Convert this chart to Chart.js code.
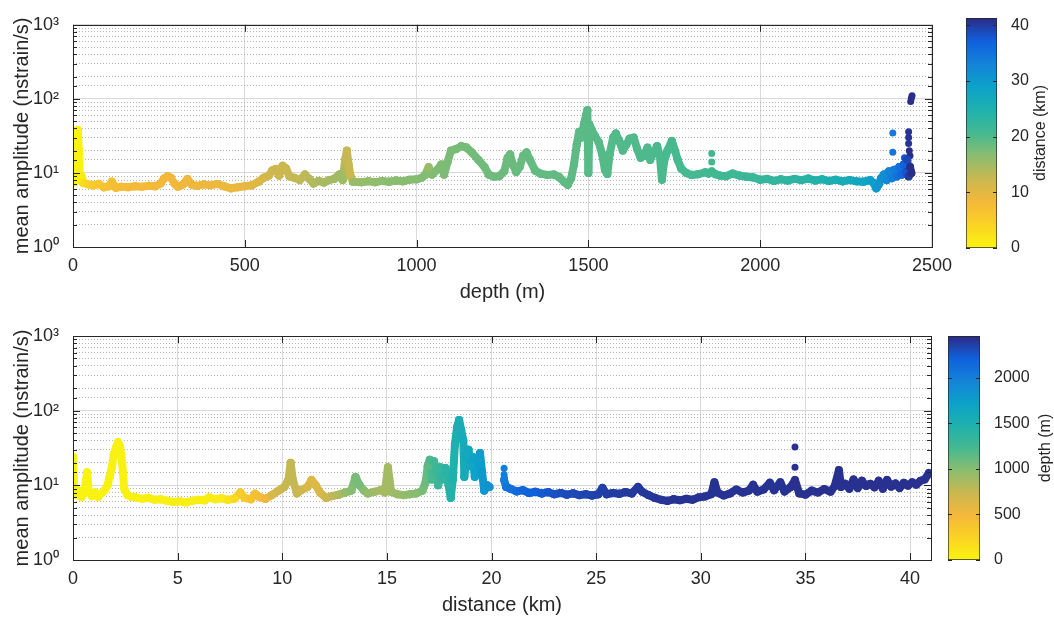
<!DOCTYPE html>
<html>
<head>
<meta charset="utf-8">
<script src="https://cdn.jsdelivr.net/npm/chart.js@4.4.1/dist/chart.umd.min.js"></script>
<style>
  body { margin: 0; background: #fff; }
  #wrap { position: relative; width: 1054px; height: 620px; }
  canvas { position: absolute; }
</style>
</head>
<body>
<div id="wrap">
  <canvas id="top" width="960" height="305" style="left:0;top:0"></canvas>
  <canvas id="cbTop" width="114" height="305" style="left:940px;top:0"></canvas>
  <canvas id="bot" width="960" height="308" style="left:0;top:310px"></canvas>
  <canvas id="cbBot" width="134" height="308" style="left:920px;top:310px"></canvas>
</div>
<script>
// top panel: amplitude vs depth, coloured by distance
const depthTop = [
  0,5,10,14,17,20,25,30,45,60,
  75,90,105,113,125,140,160,180,200,220,
  240,255,265,275,285,295,305,320,333,345,
  360,380,400,420,440,460,480,500,520,540,
  555,570,580,590,600,610,620,630,645,660,
  675,688,700,715,730,745,760,775,785,792,
  797,802,808,815,840,860,880,900,920,940,
  960,980,1000,1015,1025,1035,1045,1060,1072,1080,
  1090,1100,1115,1130,1145,1160,1180,1198,1210,1225,
  1240,1255,1265,1272,1280,1290,1300,1310,1320,1330,
  1345,1360,1380,1400,1415,1430,1440,1450,1458,1466,
  1473,1480,1487,1493,1497,1500,1503,1510,1520,1530,
  1540,1548,1555,1562,1572,1580,1590,1600,1610,1620,
  1632,1642,1652,1662,1672,1680,1690,1700,1708,1714,
  1720,1730,1743,1752,1760,1770,1785,1800,1820,1840,
  1850,1859,1870,1883,1900,1920,1940,1960,1980,2000,
  2020,2040,2060,2080,2100,2120,2140,2160,2180,2200,
  2220,2240,2260,2280,2300,2320,2330,2338,2345,2352,
  2360,2368,2375,2383,2390,2398,2405,2412,2418,2424,
  2428,2432,2436,2440
];
const ampTop = [
  8.5,7.5,14,38,20,8,9,7.3,7.0,6.8,
  7.1,6.4,6.6,7.6,6.3,6.5,6.4,6.6,6.5,6.7,
  6.6,7.2,8.4,9.0,8.6,7.2,6.5,7.0,8.3,7.0,
  6.7,7.0,6.8,7.1,6.6,6.2,6.4,6.6,6.8,7.6,
  8.6,9.2,10.8,11.3,9.2,12.5,11.5,9.0,8.6,8.0,
  9.5,8.3,7.2,7.8,7.4,8.0,8.3,9.5,8.0,15,
  20,13,9,7.6,7.5,7.7,7.5,7.8,7.6,7.9,
  7.7,8.1,8.2,8.6,9.4,12,9.5,11,13,9.5,
  14,20,21,23,22,19,15,12,9.5,8.9,
  9.0,10.5,16,17.8,13,10.3,12,17,18.9,15,
  10.8,9.8,9.4,9.5,8.8,7.5,6.9,8.5,13,24,
  36,30,45,60,70,10,45,38,31,26,
  18,11,9.7,18,30,34,27,20,24,29,
  30,21,16,17,22,15,19,23,17,8.1,
  14,20,27,20,15,11.5,10,9.4,9.6,10.2,
  9.8,10.5,9.6,9.2,9.0,9.8,9.2,8.9,8.7,8.1,
  8.3,7.8,8.2,7.9,8.3,8.0,8.4,7.9,8.2,7.8,
  8.1,7.7,8.0,7.7,7.6,8.0,7.3,6.2,7.0,8.5,
  9.5,8,10.5,8.5,11,9,12,9.5,13,10,
  15,9,12,10
];
const distTop = [
  0,0,0,0,0.3,0.5,1,3,4.5,5.5,
  6,6.5,7,7,7.5,7.5,7.8,8,8,8,
  8.2,8.3,8.3,8.4,8.4,8.5,8.5,8.6,8.6,8.7,
  8.7,8.8,8.8,8.9,9,9,9.2,9.5,10,10.5,
  11,11.5,11.8,12,12,12.2,12.3,12.5,12.8,13,
  13.2,13.5,14,14.3,14.5,14.8,15,15.2,15.3,13,
  12.5,12.5,12,15.5,15.8,16,16.2,16.4,16.5,16.6,
  16.7,16.8,16.9,17,17,15.5,17,17.2,17.3,17.3,
  17.4,17.5,17.6,17.7,17.8,17.9,18,18,18.1,18.2,
  18.2,18.3,18.3,18.4,18.4,18.5,18.5,18.6,18.6,18.7,
  18.8,18.8,18.9,19,19,19.1,19.1,19.2,19.2,19.3,
  19.3,19.3,19.4,19.4,19.4,19.5,19.5,19.5,19.6,19.6,
  19.7,19.7,19.7,19.8,19.8,19.8,19.9,19.9,19.9,20,
  20,20,20.1,20.1,20.2,20.2,20.2,20.3,20.3,20.3,
  20.4,20.4,20.5,20.5,20.5,20.6,20.6,20.7,20.8,20.9,
  20.9,21,21,21.1,21.2,21.3,21.5,21.7,21.9,22.1,
  22.3,22.5,22.8,23,23.3,23.6,24,24.4,24.8,25.2,
  25.7,26.2,26.8,27.4,28,28.8,29.5,30,30.5,31,
  31.5,32,33,33.5,34,35,35.5,36.5,37,38,
  39,40,41,41
];
// isolated dots of the top panel
const oDepthTop = [1859, 1859, 2386, 2386, 2420, 2432, 2432, 2432, 2434, 2436, 2438, 2440, 2442];
const oAmpTop = [18.3, 14, 34.5, 19, 16, 25, 30, 36, 20, 17, 92, 102, 110];
const oDistTop = [21, 21, 34, 34.5, 38, 40.5, 40.5, 40.5, 41, 41, 41, 41, 41];

// bottom panel: amplitude vs distance, coloured by depth (null = gap)
const distBot = [
  0,0.05,0.1,0.25,0.4,0.55,0.67,0.75,0.9,1.05,
  1.2,1.35,1.5,1.65,1.75,1.85,1.95,2.05,2.15,2.25,
  2.35,2.45,2.6,2.8,3.0,3.3,3.6,3.9,4.2,4.5,
  4.8,5.1,5.4,5.7,6.0,6.3,6.5,6.8,7.1,7.4,
  7.7,8.0,8.2,8.5,8.7,8.9,9.2,9.5,9.8,10.1,
  10.3,10.4,10.5,10.7,10.9,11.2,11.4,11.6,11.8,12.1,
  12.4,12.7,13.0,13.3,13.5,13.7,13.9,14.1,14.4,14.7,
  14.9,15.05,15.2,15.5,15.8,16.1,16.4,16.7,16.85,16.95,
  17.05,17.15,17.25,17.35,17.45,17.55,17.65,17.8,17.95,18.05,
  18.15,18.25,18.35,18.45,18.55,18.65,18.7,18.8,18.9,19.0,
  19.1,19.2,19.35,19.45,19.55,19.65,19.8,19.9,20.25,20.6,
  20.7,20.9,21.2,21.5,21.8,22.1,22.4,22.7,23.0,23.3,
  23.6,23.9,24.2,24.5,24.8,25.1,25.3,25.5,25.8,26.1,
  26.4,26.7,27.0,27.2,27.5,27.8,28.1,28.4,28.7,29.0,
  29.3,29.6,29.9,30.2,30.5,30.65,30.8,31.1,31.4,31.7,
  32.0,32.3,32.5,32.7,33.0,33.3,33.5,33.8,34.0,34.3,
  34.5,34.7,35.0,35.3,35.6,35.9,36.2,36.4,36.6,36.7,
  36.9,37.1,37.3,37.5,37.7,37.9,38.1,38.3,38.5,38.7,
  38.9,39.1,39.3,39.5,39.7,39.9,40.1,40.3,40.5,40.7,
  40.9
];
const ampBot = [
  24,9,7.5,8.5,7.0,8.0,15,8.5,7.2,8.0,
  7.0,7.8,8.5,10,13,17,26,32,38,33,
  20,9,7.4,7.0,6.9,6.6,6.8,6.4,6.5,6.2,
  6.0,6.1,5.9,6.2,6.4,6.3,6.9,6.5,6.7,6.4,
  6.6,8.0,6.8,6.5,7.7,7.0,6.6,7.4,8.4,9.5,
  12,20,12,7.8,8.6,9.5,11.8,10,8,6.8,
  7.2,7.5,8.0,8.5,12.9,10,8.5,7.8,8.2,8.6,
  8.0,17.5,8.2,7.6,7.4,7.6,7.8,8.5,11,18,
  22,12,21,16,10,17.5,12,17,10,6.8,
  12,35,60,75,55,40,13,25,30,18,
  24,13,22,27,15,8.5,10,9.5,null,11.8,
  9.5,9.0,8.3,8.6,7.9,8.2,7.8,8.1,7.6,7.9,
  7.5,7.8,7.4,7.6,7.3,7.6,9.2,7.6,7.9,7.7,
  8.1,7.8,9.5,8.2,7.4,6.8,6.4,6.2,6.5,6.3,
  6.6,6.4,6.9,7.1,7.6,11,8,7.3,7.8,8.8,
  8.0,8.5,10.2,8.2,8.8,10.8,8.6,11,8.3,9.5,
  11.8,7.8,7.5,8.5,8.0,8.9,8.2,9.8,16,9.5,
  10.5,9,12,9.2,11.5,9.8,10.5,9.4,11.5,9.0,
  11.8,9.6,10.6,9.2,10.8,9.9,11,10.2,11.5,12,
  14.6
];
const depthBot = [
  0,0,2,4,6,8,8,10,12,12,
  14,16,16,18,18,20,20,20,22,22,
  24,24,26,28,30,32,34,36,38,40,
  42,44,46,48,50,52,55,60,70,120,
  200,300,340,380,420,460,500,650,700,740,
  750,760,760,740,700,650,600,620,650,720,
  780,850,950,1000,1050,1050,1000,950,900,880,
  880,880,900,920,950,980,1000,1050,1100,1150,
  1200,1220,1250,1280,1300,1330,1360,1400,1420,1450,
  1470,1490,1520,1540,1560,1580,1590,1610,1630,1660,
  1690,1720,1740,1770,1790,1810,1830,1850,1900,2000,
  2050,2100,2150,2180,2200,2220,2240,2260,2280,2300,
  2310,2320,2330,2340,2350,2360,2360,2370,2380,2380,
  2390,2390,2400,2400,2400,2410,2410,2410,2420,2420,
  2420,2420,2420,2420,2420,2420,2420,2420,2420,2420,
  2420,2420,2420,2420,2420,2420,2420,2420,2420,2430,
  2430,2430,2430,2430,2430,2430,2430,2430,2430,2430,
  2430,2430,2430,2430,2430,2430,2430,2430,2430,2430,
  2430,2430,2430,2430,2430,2430,2430,2430,2430,2430,
  2430
];
const oDistBot = [20.6, 20.6, 20.62, 34.5, 34.5];
const oAmpBot = [17, 14, 12.5, 32.6, 17.5];
const oDepthBot = [2000, 2000, 2000, 2430, 2430];

// tick values
const depthTicks = [0, 500, 1000, 1500, 2000, 2500];
const distTicks = [0, 5, 10, 15, 20, 25, 30, 35, 40];
const cbDistTicks = [0, 10, 20, 30, 40];
const cbDepthTicks = [0, 500, 1000, 1500, 2000];
const distMax = 41.3;
const depthMax = 2460;
const supDigits = ['⁰', '¹', '²', '³'];

const FONT = '"Liberation Sans", Arial, Helvetica, sans-serif';
const TXT = '#262626';
Chart.defaults.font.family = FONT;
Chart.defaults.color = TXT;

// colour stops, from value 0 (bottom) to max (top)
const stops = ['#f9f40f', '#fbd324', '#f4b83a', '#c9b851', '#8bbd6f', '#45b990',
               '#1fb1ad', '#0ca2c9', '#1483d8', '#1060dc', '#2c2a85'];
const stopsRgb = stops.map(h => [1, 3, 5].map(i => parseInt(h.substr(i, 2), 16)));

function colorFor(v, max) {
    const u = Math.min(Math.max(v / max, 0), 1);
    const f = u * (stopsRgb.length - 1);
    const i = Math.min(Math.floor(f), stopsRgb.length - 2);
    const k = f - i;
    const a = stopsRgb[i], b = stopsRgb[i + 1];
    return 'rgb(' + a.map((c, j) => Math.round(c + (b[j] - c) * k)).join(',') + ')';
}

function isDecade(v) {
    const e = Math.log10(v);
    return Math.abs(e - Math.round(e)) < 1e-6;
}

// box round the axes with inward ticks, like matlab's "box on"
const framePlugin = {
    id: 'frame',
    afterDraw(chart) {
        const { ctx, chartArea: a, scales } = chart;
        ctx.save();
        ctx.strokeStyle = TXT;
        ctx.lineWidth = 1;
        ctx.beginPath();
        scales.x.ticks.forEach(t => {
            const px = Math.round(scales.x.getPixelForValue(t.value)) + 0.5;
            ctx.moveTo(px, a.bottom); ctx.lineTo(px, a.bottom - 7);
            ctx.moveTo(px, a.top); ctx.lineTo(px, a.top + 7);
        });
        scales.y.ticks.forEach(t => {
            const py = Math.round(scales.y.getPixelForValue(t.value)) + 0.5;
            const len = isDecade(t.value) ? 7 : 4;
            ctx.moveTo(a.left, py); ctx.lineTo(a.left + len, py);
            ctx.moveTo(a.right, py); ctx.lineTo(a.right - len, py);
        });
        ctx.stroke();
        ctx.strokeRect(Math.round(a.left) + 0.5, Math.round(a.top) + 0.5,
            Math.round(a.right - a.left), Math.round(a.bottom - a.top));
        ctx.restore();
    }
};

function makeMain(id, xs, ys, cs, oxs, oys, ocs, cmax, xr, xTicks, pad, xTitle) {
    const pts = xs.map((x, i) => ({ x: x, y: ys[i] }));
    const dots = oxs.map((x, i) => ({ x: x, y: oys[i] }));
    new Chart(document.getElementById(id), {
        type: 'scatter',
        data: {
            datasets: [{
                data: pts,
                showLine: true,
                spanGaps: false,
                borderWidth: 8,
                borderCapStyle: 'round',
                borderJoinStyle: 'round',
                borderColor: colorFor(cs[0], cmax),
                segment: {
                    borderColor: c => colorFor((cs[c.p0DataIndex] + cs[c.p1DataIndex]) / 2, cmax)
                },
                pointRadius: 4,
                pointBorderWidth: 0,
                pointBackgroundColor: cs.map(v => colorFor(v, cmax))
            }, {
                data: dots,
                showLine: false,
                pointRadius: 3.5,
                pointBorderWidth: 0,
                pointBackgroundColor: ocs.map(v => colorFor(v, cmax))
            }]
        },
        options: {
            responsive: false,
            animation: false,
            devicePixelRatio: 1,
            layout: { padding: pad },
            plugins: { legend: { display: false }, tooltip: { enabled: false } },
            scales: {
                x: {
                    type: 'linear',
                    min: xr.min,
                    max: xr.max,
                    afterFit: s => { s.height = 58; },
                    afterBuildTicks: s => { s.ticks = xTicks.map(v => ({ value: v })); },
                    ticks: {
                        autoSkip: false,
                        maxRotation: 0,
                        padding: 8,
                        font: { size: 18 },
                        callback: v => String(v)
                    },
                    grid: { color: '#dadada', drawTicks: false },
                    border: { display: false },
                    title: { display: true, text: xTitle, font: { size: 20 }, padding: { top: 0, bottom: 1 } }
                },
                y: {
                    type: 'logarithmic',
                    min: 1,
                    max: 1000,
                    afterFit: s => { s.width = 73; },
                    ticks: {
                        autoSkip: false,
                        padding: 14,
                        font: { size: 18 },
                        callback: v => isDecade(v) ? '10' + supDigits[Math.round(Math.log10(v))] : ''
                    },
                    grid: {
                        drawTicks: false,
                        color: c => (c.tick && !isDecade(c.tick.value)) ? '#b4b4b4' : '#d8d8d8'
                    },
                    border: {
                        display: false,
                        dash: c => (c.tick && !isDecade(c.tick.value)) ? [1, 2] : []
                    },
                    title: { display: true, text: 'mean amplitude (nstrain/s)', font: { size: 20 }, padding: { top: 10, bottom: 0 } }
                }
            }
        },
        plugins: [framePlugin]
    });
}

// colorbar label reads bottom to top, and ticks point inward on both sides
function cbPlugin(label, labelX) {
    return {
        id: 'cbExtra',
        afterDraw(chart) {
            const { ctx, chartArea: a, scales } = chart;
            ctx.save();
            ctx.strokeStyle = TXT;
            ctx.lineWidth = 1;
            ctx.beginPath();
            scales.y.ticks.forEach(t => {
                const py = Math.round(scales.y.getPixelForValue(t.value)) + 0.5;
                ctx.moveTo(a.left, py); ctx.lineTo(a.left + 4, py);
                ctx.moveTo(a.right, py); ctx.lineTo(a.right - 4, py);
            });
            ctx.stroke();
            ctx.translate(labelX, (a.top + a.bottom) / 2);
            ctx.rotate(-Math.PI / 2);
            ctx.fillStyle = TXT;
            ctx.font = '16px ' + FONT;
            ctx.textAlign = 'center';
            ctx.textBaseline = 'middle';
            ctx.fillText(label, 0, 0);
            ctx.restore();
        }
    };
}

function makeColorbar(id, cmax, ticks, label, pad, axisWidth, labelX) {
    new Chart(document.getElementById(id), {
        type: 'bar',
        data: {
            labels: [''],
            datasets: [{
                data: [[0, cmax]],
                backgroundColor: c => {
                    const a = c.chart.chartArea;
                    if (!a) return 'transparent';
                    const g = c.chart.ctx.createLinearGradient(0, a.bottom, 0, a.top);
                    stops.forEach((col, i) => g.addColorStop(i / (stops.length - 1), col));
                    return g;
                },
                borderColor: TXT,
                borderWidth: 1,
                borderSkipped: false,
                barPercentage: 1,
                categoryPercentage: 1
            }]
        },
        options: {
            responsive: false,
            animation: false,
            devicePixelRatio: 1,
            layout: { padding: pad },
            plugins: { legend: { display: false }, tooltip: { enabled: false } },
            scales: {
                x: { display: false },
                y: {
                    position: 'right',
                    min: 0,
                    max: cmax,
                    afterFit: s => { s.width = axisWidth; },
                    afterBuildTicks: s => { s.ticks = ticks.map(v => ({ value: v })); },
                    ticks: { autoSkip: false, padding: 6, font: { size: 16 }, callback: v => String(v) },
                    grid: { display: false },
                    border: { display: false }
                }
            }
        },
        plugins: [cbPlugin(label, labelX)]
    });
}

makeMain('top', depthTop, ampTop, distTop, oDepthTop, oAmpTop, oDistTop, distMax,
    { min: 0, max: 2500 }, depthTicks, { top: 19, right: 25, left: 0, bottom: 0 }, 'depth (m)');
makeMain('bot', distBot, ampBot, depthBot, oDistBot, oAmpBot, oDepthBot, depthMax,
    { min: 0, max: 41 }, distTicks, { top: 26, right: 29, left: 0, bottom: 0 }, 'distance (km)');

makeColorbar('cbTop', distMax, cbDistTicks, 'distance (km)', { top: 18, bottom: 57, left: 26, right: 0 }, 57, 101);
makeColorbar('cbBot', depthMax, cbDepthTicks, 'depth (m)', { top: 26, bottom: 58, left: 28, right: 0 }, 74, 126);
</script>
</body>
</html>
